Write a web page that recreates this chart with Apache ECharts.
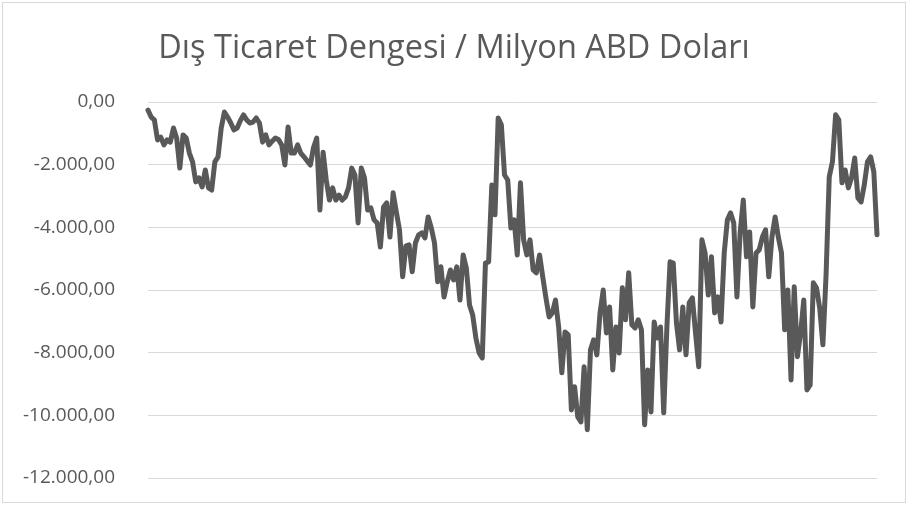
<!DOCTYPE html>
<html>
<head>
<meta charset="utf-8">
<script src="https://cdn.jsdelivr.net/npm/echarts@6/dist/echarts.min.js"></script>
<style>
    html, body { margin: 0; padding: 0; background: #fff; }
    #chart {
        position: absolute;
        left: 2px; top: 2px;
        width: 904px; height: 501px;
        border: 1px solid #d9d9d9;
        box-sizing: border-box;
    }
</style>
</head>
<body>
<div id="chart"></div>
<script>
// Dış ticaret dengesi, aylık (milyon ABD doları)
const balance = [
    -260, -480, -570, -1210, -1120, -1370, -1210, -1280, -830, -1150,
    -2110, -1050, -1150, -1630, -1910, -2550, -2420, -2710, -2170, -2740,
    -2810, -1910, -1750, -830,
    -320, -480, -670, -890, -830, -600, -410, -570, -670, -640,
    -510, -670, -1280, -1050, -1370, -1250, -1150, -1200, -1370, -2010,
    -800, -1630, -1630, -1370, -1630, -1750, -1880, -2010, -1450, -1150,
    -3450,
    -1600, -2490, -3130, -2740, -3130, -2970, -3130, -3030, -2740, -2110,
    -2330, -3860, -2110, -2420, -3450, -3380, -3760, -3860, -4630, -3350,
    -3220, -4310, -2900, -3510, -4080,
    -5580, -4600, -4560, -5420, -4500, -4240, -4180, -4340, -3670, -4020,
    -4500, -5740, -5260, -6220, -5740, -5360, -5680, -5260, -6320, -4880,
    -5300, -6480, -6800, -7530, -8000, -8170,
    -5140, -5100, -2650, -3600, -510,
    -730, -2330, -2490, -4020, -3760, -4880, -2580, -4400, -4880, -4400,
    -5360, -5450, -4880, -5580, -6250, -6860, -6730, -6320, -7180, -8640,
    -7340, -7430, -9830, -9090, -10050, -10210, -8450, -10460, -7910, -7590,
    -8070, -6730, -6000, -7370, -6540, -8550, -7180, -8010, -5930, -6950,
    -5450, -7110, -7210, -6950, -7270, -10300, -8550, -9890, -7020, -7530,
    -7180, -9920, -7180, -5100, -5140, -7050, -7910, -6540, -8070, -6410,
    -6250, -7370, -8450, -4400, -4820, -6160, -4940, -6730, -6220, -7020,
    -4820, -3760, -3540, -3860, -6220, -4180, -3130, -4940, -4150, -6540,
    -4820, -4720, -4310, -4080, -5580, -4310, -3670, -4310, -4820, -7270,
    -6000, -8870, -5900, -8130, -7370, -6320, -9190, -9030, -5770, -5930,
    -6570, -7750, -5520, -2390, -1910, -410, -570, -2580, -2170, -2740,
    -2420, -1790, -3060, -3190, -2650, -1910, -1750, -2230, -4240
];
const months = balance.map((v, i) => String(i + 1));

const yMin = -12000;
const yMax = 0;
const yStep = 2000;

const chart = echarts.init(document.getElementById('chart'));

// Türkçe sayı biçimi: binlik ayırıcı nokta, ondalık virgül
function trFormat(value) {
    const neg = value < 0;
    const s = Math.abs(value).toFixed(0).replace(/\B(?=(\d{3})+(?!\d))/g, '.');
    return (neg ? '-' : '') + s + ',00';
}

const option = {
    backgroundColor: '#fff',
    animation: false,
    title: {
        text: 'Dış Ticaret Dengesi / Milyon ABD Doları',
        left: 'center',
        top: 24,
        textStyle: {
            color: '#595959',
            fontFamily: 'Open Sans',
            fontSize: 32.5,
            fontWeight: 'normal'
        }
    },
    grid: {
        left: 145,
        right: 28,
        top: 99,
        bottom: 24
    },
    xAxis: {
        type: 'category',
        data: months,
        boundaryGap: false,
        axisLine: { show: false },
        axisTick: { show: false },
        axisLabel: { show: false },
        splitLine: { show: false }
    },
    yAxis: {
        type: 'value',
        min: yMin,
        max: yMax,
        interval: yStep,
        axisLine: { show: false },
        axisTick: { show: false },
        axisLabel: {
            color: '#595959',
            fontFamily: 'Open Sans',
            fontSize: 19,
            margin: 33,
            formatter: trFormat
        },
        splitLine: {
            lineStyle: { color: '#d9d9d9', width: 1 }
        }
    },
    series: [{
        type: 'line',
        data: balance,
        symbol: 'none',
        lineStyle: { color: '#595959', width: 5, join: 'round', cap: 'round' }
    }]
};
chart.setOption(option);
</script>
</body>
</html>
